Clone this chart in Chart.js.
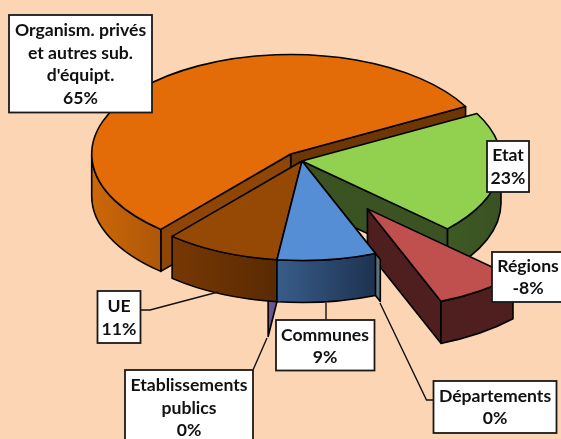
<!DOCTYPE html>
<html>
<head>
<meta charset="utf-8">
<title>Répartition</title>
<style>
html,body{margin:0;padding:0;background:#fcd5b5;overflow:hidden}
canvas{display:block}
</style>
<script src="https://cdn.jsdelivr.net/npm/chart.js@4/dist/chart.umd.min.js"></script>
</head>
<body>
<canvas id="c" width="561" height="439"></canvas>
<script>
// ---- data ----
const categories = ['Etat', 'Régions', 'Départements', 'Communes', 'Etablissements publics', 'UE', 'Organism. privés et autres sub. d\'équipt.'];
const values = [23.15, -8.2, 0, 9.36, 0, 10.85, 65];
const labelLines = [['Etat'], ['Régions'], ['Départements'], ['Communes'], ['Etablissements', 'publics'], ['UE'], ['Organism. privés', 'et autres sub.', 'd\'équipt.']];

// ---- styles ----
const topColors = ['#92d050', '#c0504d', '#7f7f7f', '#558ed5', '#8064a2', '#964805', '#e36c09'];
const wallLight = ['#3d5a24', '#4f1f1f', '#5e7079', '#385d8a', '#6a5591', '#773804', '#cc6709'];
const wallDark = ['#3a5122', '#4f1f1f', '#5e7079', '#1e3250', '#6a5591', '#5a2a02', '#ad5708'];
const startWall = ['#3b5323', '#4f1f1f', '#5e7079', '#385d8a', '#6a5591', '#773804', '#8f4505'];
const endWall = ['#3b5323', '#4f1f1f', '#5e7079', '#385d8a', '#6a5591', '#773804', '#6e3604'];
const paintOrder = [6, 0, 1, 2, 4, 5, 3];
const explode = [0, 116, 13, 0, 70, 0, 18];
const pie = {cx: 302, cy: 161, flat: 0.5, depth: 42, radius: 199, rotation: 61.5};

// ---- label layout: [left, top, right, bottom, centreX, firstLineCentreY] ----
const labelBoxes = [
  [487, 141, 529, 192, 508, 155.5],
  [492, 252, 570, 302, 528, 266],
  [433.5, 381, 556.5, 433, 495, 396],
  [276, 320, 374.5, 370.5, 325, 335],
  [125, 370, 253, 450, 189, 385.5],
  [97.5, 291, 140.5, 343, 119, 306.5],
  [9, 15, 152, 112.5, 80.5, 30.5]
];
const leaders = [
  [[380, 303], [426.5, 400], [433.5, 400]],
  [[326, 303], [326, 320]],
  [[267, 338], [253, 370]],
  [[218, 292], [150, 310], [140.5, 310]]
];
const lineHeight = 22.6;
const labelFont = 'bold 17.6px Lato, Carlito, sans-serif';

const pie3d = {
  id: 'pie3d',
  beforeDatasetDraw(chart, args) {
    const ctx = chart.ctx;
    const els = args.meta.data;
    const {cx, cy, flat, depth} = pie;
    paintOrder.forEach(i => {
      const el = els[i];
      const R = el.outerRadius;
      const s = el.startAngle, e = el.endAngle;
      const mid = (s + e) / 2;
      const ox = cx + Math.cos(mid) * explode[i];
      const oy = cy + Math.sin(mid) * explode[i] * flat;
      const px = (a, r) => ox + Math.cos(a) * r;
      const py = a => oy + Math.sin(a) * R * flat;
      ctx.save();
      ctx.lineWidth = 1.6;
      ctx.lineJoin = 'round';
      ctx.strokeStyle = '#000';

      const radial = (a, fill) => {
        ctx.beginPath();
        ctx.moveTo(ox, oy);
        ctx.lineTo(px(a, R), py(a));
        ctx.lineTo(px(a, R), py(a) + depth);
        ctx.lineTo(ox, oy + depth);
        ctx.closePath();
        ctx.fillStyle = fill;
        ctx.fill();
        ctx.stroke();
      };
      // walls along the two cut edges, when they face the viewer
      if (Math.cos(e) > 0) radial(e, endWall[i]);
      if (Math.cos(s) < 0) radial(s, startWall[i]);

      // outer rim wall, on the front half only
      const a0 = Math.max(s, 0), a1 = Math.min(e, Math.PI);
      if (a1 > a0) {
        const xa = px(a0, R), xb = px(a1, R);
        let minX = Math.min(xa, xb), maxX = Math.max(xa, xb);
        if (a0 <= 0) maxX = ox + R;
        const g = ctx.createLinearGradient(minX, 0, maxX, 0);
        g.addColorStop(0, wallLight[i]);
        g.addColorStop(1, wallDark[i]);
        ctx.beginPath();
        ctx.ellipse(ox, oy, R, R * flat, 0, a0, a1);
        ctx.lineTo(px(a1, R), py(a1) + depth);
        ctx.ellipse(ox, oy + depth, R, R * flat, 0, a1, a0, true);
        ctx.closePath();
        ctx.fillStyle = g;
        ctx.fill();
        ctx.stroke();
      }

      // top face, drawn by the library's arc element under a flattening transform
      ctx.save();
      ctx.translate(ox, oy);
      ctx.scale(1, flat);
      ctx.translate(-el.x, -el.y);
      el.draw(ctx, chart.chartArea);
      ctx.restore();
      if (e > s) {
        ctx.beginPath();
        ctx.moveTo(ox, oy);
        ctx.ellipse(ox, oy, R, R * flat, 0, s, e);
        ctx.closePath();
        ctx.stroke();
      }
      ctx.restore();
    });
    return false;
  },
  afterDraw(chart) {
    const ctx = chart.ctx;
    ctx.save();
    ctx.strokeStyle = '#111';
    ctx.lineWidth = 1.4;
    leaders.forEach(pts => {
      ctx.beginPath();
      pts.forEach((p, k) => k ? ctx.lineTo(p[0], p[1]) : ctx.moveTo(p[0], p[1]));
      ctx.stroke();
    });
    ctx.font = labelFont;
    ctx.textAlign = 'center';
    ctx.textBaseline = 'middle';
    categories.forEach((name, i) => {
      const [l, t, r, b, tx, ty] = labelBoxes[i];
      ctx.fillStyle = '#fff';
      ctx.strokeStyle = '#1a1a1a';
      ctx.lineWidth = 1.8;
      ctx.fillRect(l, t, r - l, b - t);
      ctx.strokeRect(l, t, r - l, b - t);
      ctx.fillStyle = '#111';
      const lines = labelLines[i].concat([Math.round(values[i]) + '%']);
      lines.forEach((line, k) => ctx.fillText(line, tx, ty + k * lineHeight));
    });
    ctx.restore();
  }
};

new Chart(document.getElementById('c'), {
  type: 'pie',
  data: {
    labels: categories,
    datasets: [{
      data: values,
      backgroundColor: topColors,
      borderWidth: 0,
      clip: false
    }]
  },
  options: {
    responsive: false,
    animation: false,
    devicePixelRatio: 1,
    radius: pie.radius,
    rotation: pie.rotation,
    layout: {padding: 0},
    events: [],
    plugins: {legend: {display: false}, tooltip: {enabled: false}, title: {display: false}}
  },
  plugins: [pie3d]
});
</script>
</body>
</html>
